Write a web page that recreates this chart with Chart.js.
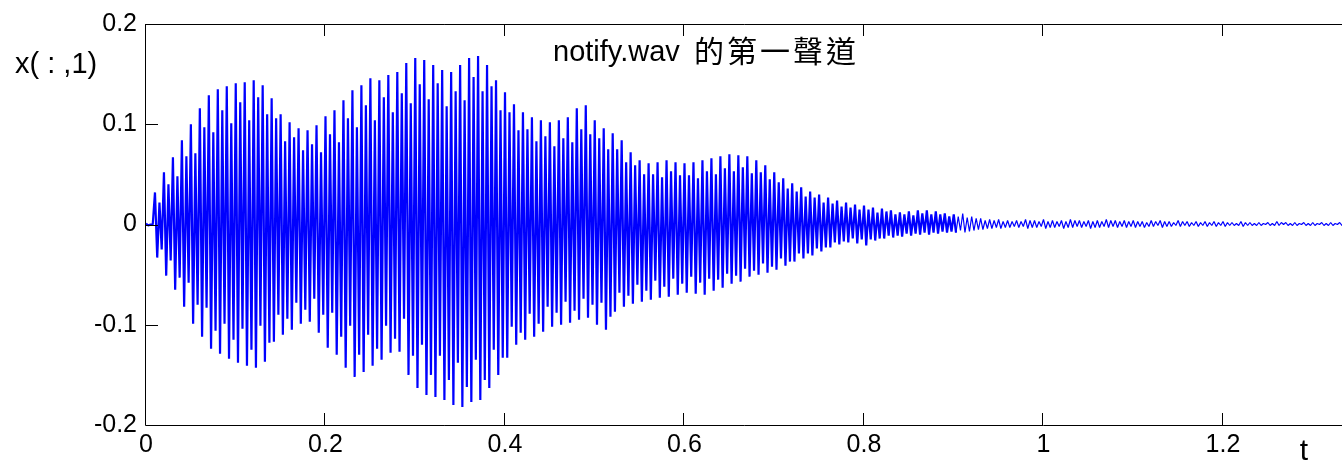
<!DOCTYPE html>
<html>
<head>
<meta charset="utf-8">
<script src="https://cdn.jsdelivr.net/npm/chart.js@4.4.1/dist/chart.umd.min.js"></script>
<style>
  html, body { margin:0; padding:0; background:#fff; overflow:hidden; }
  #wave { display:block; }
</style>
</head>
<body>
<canvas id="wave" width="1342" height="461"></canvas>
<script>
// one reading cycle every 0.01 s: +peak, -peak, inner +, inner -
const step = 0.01;

// outer positive peaks
const upperPeaks = [
  0.001, 0.032, 0.052, 0.067, 0.084, 0.100, 0.116, 0.129, 0.135, 0.138,
  0.141, 0.142, 0.144, 0.139, 0.126, 0.110, 0.102, 0.096, 0.094, 0.099,
  0.108, 0.114, 0.124, 0.134, 0.139, 0.146, 0.144, 0.149, 0.152, 0.161,
  0.166, 0.164, 0.159, 0.154, 0.152, 0.159, 0.166, 0.168, 0.159, 0.144,
  0.132, 0.120, 0.112, 0.107, 0.104, 0.102, 0.104, 0.107, 0.116, 0.119,
  0.104, 0.096, 0.091, 0.084, 0.072, 0.064, 0.061, 0.062, 0.064, 0.062,
  0.061, 0.062, 0.064, 0.066, 0.068, 0.070, 0.069, 0.068, 0.064, 0.059,
  0.052, 0.046, 0.041, 0.037, 0.033, 0.030, 0.027, 0.024, 0.022, 0.020,
  0.019, 0.017, 0.016, 0.014, 0.012, 0.013, 0.014, 0.014, 0.013, 0.011,
  0.010, 0.011, 0.008, 0.006, 0.005, 0.005, 0.004, 0.004, 0.005, 0.004,
  0.005, 0.004, 0.004, 0.005, 0.004, 0.004, 0.004, 0.005, 0.004, 0.004,
  0.004, 0.003, 0.004, 0.004, 0.003, 0.004, 0.003, 0.003, 0.003, 0.003,
  0.003, 0.002, 0.003, 0.002, 0.002, 0.002, 0.003, 0.002, 0.002, 0.002,
  0.002, 0.002, 0.002, 0.002
];

// outer negative peaks
const lowerPeaks = [
  -0.001, -0.033, -0.051, -0.065, -0.082, -0.099, -0.112, -0.124, -0.129, -0.134,
  -0.138, -0.141, -0.143, -0.137, -0.117, -0.110, -0.105, -0.099, -0.097, -0.108,
  -0.123, -0.130, -0.143, -0.152, -0.147, -0.141, -0.135, -0.128, -0.127, -0.150,
  -0.163, -0.170, -0.172, -0.175, -0.180, -0.182, -0.177, -0.175, -0.163, -0.150,
  -0.133, -0.120, -0.115, -0.112, -0.107, -0.102, -0.100, -0.098, -0.095, -0.093,
  -0.100, -0.105, -0.087, -0.082, -0.079, -0.077, -0.075, -0.073, -0.072, -0.070,
  -0.068, -0.069, -0.070, -0.066, -0.063, -0.059, -0.057, -0.052, -0.050, -0.048,
  -0.045, -0.041, -0.037, -0.034, -0.031, -0.027, -0.023, -0.020, -0.018, -0.019,
  -0.021, -0.016, -0.014, -0.013, -0.012, -0.011, -0.010, -0.010, -0.009, -0.008,
  -0.008, -0.008, -0.006, -0.005, -0.004, -0.004, -0.003, -0.003, -0.004, -0.003,
  -0.004, -0.003, -0.004, -0.003, -0.003, -0.004, -0.003, -0.003, -0.003, -0.003,
  -0.003, -0.003, -0.002, -0.003, -0.002, -0.002, -0.002, -0.002, -0.002, -0.002,
  -0.002, -0.001, -0.002, -0.001, -0.001, -0.001, -0.001, -0.001, -0.001, -0.001,
  -0.001, -0.001, -0.001, -0.001
];

// smaller positive swings inside the band
const innerHigh = [
  0.000, 0.022, 0.040, 0.048, 0.068, 0.071, 0.097, 0.092, 0.114, 0.101,
  0.122, 0.104, 0.127, 0.110, 0.106, 0.083, 0.087, 0.074, 0.080, 0.072,
  0.090, 0.082, 0.106, 0.097, 0.119, 0.104, 0.127, 0.112, 0.131, 0.121,
  0.140, 0.125, 0.141, 0.118, 0.133, 0.124, 0.147, 0.133, 0.138, 0.114,
  0.112, 0.094, 0.095, 0.083, 0.088, 0.078, 0.086, 0.082, 0.095, 0.090,
  0.086, 0.075, 0.075, 0.062, 0.059, 0.050, 0.050, 0.047, 0.053, 0.049,
  0.049, 0.046, 0.053, 0.050, 0.056, 0.053, 0.057, 0.051, 0.052, 0.045,
  0.042, 0.036, 0.033, 0.028, 0.027, 0.022, 0.021, 0.018, 0.017, 0.015,
  0.015, 0.012, 0.013, 0.010, 0.010, 0.009, 0.011, 0.010, 0.010, 0.008,
  0.008, 0.007, 0.006, 0.004, 0.004, 0.003, 0.003, 0.003, 0.004, 0.003,
  0.003, 0.003, 0.003, 0.004, 0.003, 0.003, 0.003, 0.004, 0.003, 0.003,
  0.003, 0.002, 0.003, 0.003, 0.002, 0.003, 0.002, 0.002, 0.002, 0.002,
  0.002, 0.001, 0.002, 0.001, 0.001, 0.001, 0.002, 0.001, 0.001, 0.001,
  0.001, 0.001, 0.001, 0.001
];

// smaller negative swings inside the band
const innerLow = [
  0.000, -0.025, -0.036, -0.053, -0.058, -0.080, -0.083, -0.106, -0.099, -0.115,
  -0.104, -0.125, -0.101, -0.118, -0.090, -0.094, -0.078, -0.085, -0.074, -0.090,
  -0.088, -0.112, -0.101, -0.130, -0.110, -0.124, -0.101, -0.114, -0.094, -0.131,
  -0.120, -0.150, -0.131, -0.155, -0.138, -0.162, -0.135, -0.155, -0.125, -0.133,
  -0.102, -0.108, -0.089, -0.099, -0.082, -0.088, -0.077, -0.086, -0.074, -0.080,
  -0.078, -0.092, -0.068, -0.071, -0.060, -0.066, -0.056, -0.062, -0.054, -0.059,
  -0.052, -0.058, -0.054, -0.055, -0.049, -0.051, -0.044, -0.046, -0.039, -0.042,
  -0.034, -0.037, -0.029, -0.029, -0.024, -0.023, -0.018, -0.017, -0.014, -0.015,
  -0.015, -0.014, -0.011, -0.011, -0.009, -0.009, -0.008, -0.008, -0.007, -0.007,
  -0.006, -0.007, -0.005, -0.004, -0.003, -0.003, -0.002, -0.002, -0.003, -0.002,
  -0.003, -0.002, -0.003, -0.002, -0.002, -0.003, -0.002, -0.002, -0.002, -0.002,
  -0.002, -0.002, -0.001, -0.002, -0.001, -0.001, -0.001, -0.001, -0.001, -0.001,
  -0.001, -0.001, -0.001, -0.001, 0.000, -0.001, 0.000, -0.001, 0.000, -0.001,
  0.000, -0.001, 0.000, -0.001
];

const xTickValues = [0, 0.2, 0.4, 0.6, 0.8, 1, 1.2];
const xTickLabels = ['0', '0.2', '0.4', '0.6', '0.8', '1', '1.2'];
const yTickValues = [-0.2, -0.1, 0, 0.1, 0.2];
const yTickLabels = ['-0.2', '-0.1', '0', '0.1', '0.2'];

const titleLatin = 'notify.wav';
const titleCJK = '的第一聲道';
const yLabel = 'x( : ,1)';
const xLabel = 't';

// each cycle: outer +, outer -, inner +, inner -
const points = [];
upperPeaks.forEach((v, i) => {
  const t = i * step;
  points.push({ x: t, y: v });
  points.push({ x: t + step * 0.25, y: lowerPeaks[i] });
  points.push({ x: t + step * 0.5, y: innerHigh[i] });
  points.push({ x: t + step * 0.75, y: innerLow[i] });
});

const FONT = '"Liberation Sans", Arial, sans-serif';

// MATLAB style box: frame + inward tick marks + free text
const matlabBox = {
  id: 'matlabBox',
  afterDraw(chart){
    const { ctx, chartArea: a, scales } = chart;
    ctx.save();
    ctx.strokeStyle = '#000';
    ctx.lineWidth = 1;
    ctx.beginPath();
    ctx.moveTo(a.right + 2, a.top + 0.5);
    ctx.lineTo(a.left - 0.5, a.top + 0.5);
    ctx.lineTo(a.left - 0.5, a.bottom + 0.5);
    ctx.lineTo(a.right + 2, a.bottom + 0.5);
    ctx.stroke();
    ctx.beginPath();
    xTickValues.forEach(v => {
      const px = Math.round(scales.x.getPixelForValue(v)) - 0.5;
      ctx.moveTo(px, a.bottom); ctx.lineTo(px, a.bottom - 12);
      ctx.moveTo(px, a.top); ctx.lineTo(px, a.top + 12);
    });
    yTickValues.forEach(v => {
      const py = Math.round(scales.y.getPixelForValue(v)) + 0.5;
      ctx.moveTo(a.left, py); ctx.lineTo(a.left + 12, py);
    });
    ctx.stroke();

    ctx.fillStyle = '#000';
    ctx.textBaseline = 'alphabetic';
    ctx.textAlign = 'left';
    ctx.font = '29px ' + FONT;
    ctx.fillText(titleLatin, 553, 61);
    ctx.font = '30px "Noto Sans CJK TC", "Noto Sans CJK SC", sans-serif';
    ctx.letterSpacing = '3px';
    ctx.fillText(titleCJK, 694, 62);
    ctx.letterSpacing = '0px';
    ctx.font = '29px ' + FONT;
    ctx.fillText(yLabel, 15, 73);
    ctx.font = '30px ' + FONT;
    ctx.textAlign = 'center';
    ctx.fillText(xLabel, 1304, 460);
    ctx.restore();
  }
};

new Chart(document.getElementById('wave'), {
  type: 'line',
  data: {
    datasets: [{
      data: points,
      borderColor: '#0000ff',
      borderWidth: 2.2,
      borderJoinStyle: 'bevel',
      segment: {
        // the quiet tail is drawn with a thinner pen
        borderWidth: (c) => (c.p0.parsed.x > 0.9 ? 1.2 : 2.2)
      },
      pointRadius: 0,
      tension: 0,
      fill: false
    }]
  },
  options: {
    responsive: false,
    animation: false,
    events: [],
    layout: { padding: { top: 24, right: 0, left: 0, bottom: 0 } },
    plugins: { legend: { display: false }, tooltip: { enabled: false }, title: { display: false } },
    scales: {
      x: {
        type: 'linear',
        min: 0,
        max: 1.3326,
        afterFit(scale){ scale.height = 36; },
        afterBuildTicks(scale){ scale.ticks = xTickValues.map(v => ({ value: v })); },
        grid: { display: false, drawTicks: false },
        border: { display: false },
        ticks: {
          color: '#000',
          padding: 5,
          maxRotation: 0,
          autoSkip: false,
          font: { family: FONT, size: 25 },
          callback: (v) => xTickLabels[xTickValues.indexOf(v)] ?? ''
        }
      },
      y: {
        type: 'linear',
        min: -0.2,
        max: 0.2,
        afterFit(scale){ scale.width = 146; },
        afterBuildTicks(scale){ scale.ticks = yTickValues.map(v => ({ value: v })); },
        grid: { display: false, drawTicks: false },
        border: { display: false },
        ticks: {
          color: '#000',
          padding: 9,
          autoSkip: false,
          font: { family: FONT, size: 25 },
          callback: (v) => yTickLabels[yTickValues.indexOf(v)] ?? ''
        }
      }
    }
  },
  plugins: [matlabBox]
});
</script>
</body>
</html>
